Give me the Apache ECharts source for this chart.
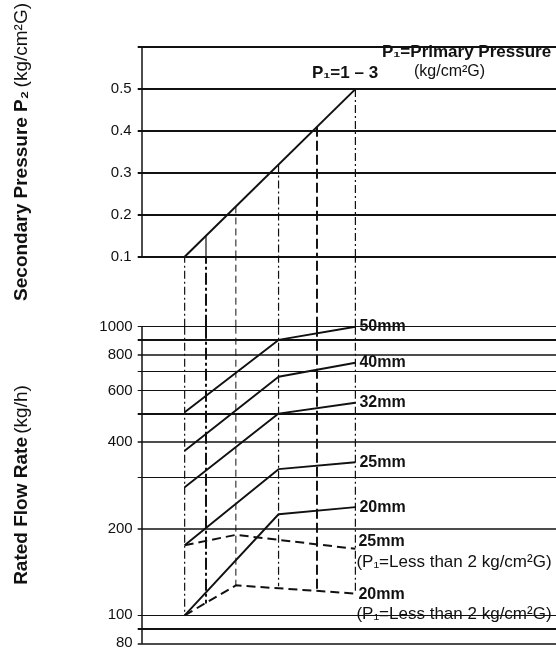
<!DOCTYPE html>
<html><head><meta charset="utf-8">
<script src="https://cdn.jsdelivr.net/npm/echarts@6.0.0/dist/echarts.min.js"></script>
<style>html,body{margin:0;padding:0;background:#fff}#c{width:556px;height:651px}</style>
</head><body><div id="c"></div>
<script>
// ---- data ----
const P2_GUIDES = [0.1, 0.15, 0.22, 0.32, 0.41, 0.5];        // secondary pressure guide positions
const GUIDE_FLOW_END = [100, 110, 127, 126, 123, 119];        // where each guide stops in flow panel
const P1_LINE_X = [0.1, 0.5];
const P1_LINE_P2 = [0.1, 0.5];
const P2_MIN = 0.1, P2_MAX = 0.6;
const FLOW_X = [0.1, 0.32, 0.5];
const FLOW_50 = [505, 900, 1000];
const FLOW_40 = [372, 671, 750];
const FLOW_32 = [278, 500, 545];
const FLOW_25 = [175, 321, 339];
const FLOW_20 = [100, 224, 237];
const FLOW_X_LOW = [0.1, 0.22, 0.5];
const FLOW_25_LOW = [175, 190, 170];
const FLOW_20_LOW = [100, 127, 119];
const FLOW_GRID = [1000, 900, 800, 700, 600, 500, 400, 300, 200, 100, 90, 80];
const FLOW_TICK_LABELS = [1000, 800, 600, 400, 200, 100, 80];
const SIZE_LABELS = ['50mm', '40mm', '32mm', '25mm', '20mm'];
const LOW_NOTE = '(P₁=Less than 2 kg/cm²G)';

// ---- styles ----
const F = "'Liberation Sans', Arial, Helvetica, sans-serif";
const INK = '#111';
const GRID_W = {1000:1, 900:2.2, 800:1.5, 700:1, 600:1, 500:1.8, 400:1.5, 300:1, 200:1.5, 100:1, 90:2.2, 80:1.5};
const GUIDE_STYLE = [
  {width:1.2, type:[8,3,2,3]},
  {width:2,   type:[12,3,3,3]},
  {width:1,   type:[7,4]},
  {width:1.2, type:[8,3,2,3]},
  {width:2,   type:[10,4]},
  {width:1.2, type:[8,3,2,3]}
];
const zip = (xs, ys) => xs.map((x, i) => [x, ys[i]]);

const series = [];
// gridlines of flow panel
series.push({
  type:'line', xAxisIndex:2, yAxisIndex:2, data:[], z:1, silent:true,
  markLine:{
    silent:true, symbol:'none', animation:false,
    data: FLOW_GRID.map(v => ({
      yAxis: v,
      lineStyle:{color:INK, width:GRID_W[v], type:'solid'},
      label:{show:FLOW_TICK_LABELS.includes(v), position:'start', formatter:String(v),
             color:INK, fontSize:15, fontFamily:F, distance:5}
    }))
  }
});
// P1 = 1-3 line
series.push({
  type:'line', xAxisIndex:0, yAxisIndex:0, data:zip(P1_LINE_X, P1_LINE_P2),
  symbol:'none', lineStyle:{color:INK, width:2}, z:3
});
// guides
P2_GUIDES.forEach((x, i) => {
  const ls = Object.assign({color:INK}, GUIDE_STYLE[i]);
  const topLs = i === 1 ? {color:INK, width:1.2, type:'solid'} : ls;
  series.push({type:'line', xAxisIndex:0, yAxisIndex:0, data:[[x, x], [x, P2_MIN]], symbol:'none', lineStyle:topLs, z:2});
  series.push({type:'line', xAxisIndex:1, yAxisIndex:1, data:[[x, 0], [x, 1]], symbol:'none', lineStyle:ls, z:2});
  series.push({type:'line', xAxisIndex:2, yAxisIndex:2, data:[[x, 1000], [x, GUIDE_FLOW_END[i]]], symbol:'none', lineStyle:ls, z:2});
});
// flow curves
[FLOW_50, FLOW_40, FLOW_32, FLOW_25, FLOW_20].forEach((arr, i) => {
  series.push({
    type:'line', xAxisIndex:2, yAxisIndex:2, data:zip(FLOW_X, arr), symbol:'none',
    lineStyle:{color:INK, width:1.9}, z:3,
    endLabel:{show:true, formatter:SIZE_LABELS[i], distance:3, color:INK, fontWeight:'bold',
              fontSize:16, fontFamily:F, backgroundColor:'#fff', padding:[0,2,0,1], lineHeight:17}
  });
});
[[FLOW_25_LOW, '25mm', 3], [FLOW_20_LOW, '20mm', 11]].forEach(([arr, name, off]) => {
  series.push({
    type:'line', xAxisIndex:2, yAxisIndex:2, data:zip(FLOW_X_LOW, arr), symbol:'none',
    lineStyle:{color:INK, width:2, type:[9,5]}, z:3,
    endLabel:{show:true, formatter:'{b|' + name + '}\n{n|' + LOW_NOTE + '}', distance:1,
              offset:[0, off], backgroundColor:'#fff', padding:[0,2,0,0], color:INK,
              rich:{b:{fontWeight:'bold', fontSize:16, lineHeight:20, fontFamily:F, color:INK, padding:[0,0,0,2]},
                    n:{fontSize:17, lineHeight:20, fontFamily:F, color:INK}}}
  });
});

const xCommon = {type:'value', min:-0.01, max:0.97, show:false};
const nameRich = {
  b:{fontWeight:'bold', fontSize:19, fontFamily:F, color:INK},
  n:{fontWeight:'normal', fontSize:19, fontFamily:F, color:INK}
};

const option = {
  animation:false,
  backgroundColor:'#fff',
  title:[
    {text:'P₁=Primary Pressure', left:382, top:44, padding:0,
     textStyle:{fontSize:17, fontWeight:'bold', color:INK, fontFamily:F}},
    {text:'(kg/cm²G)', left:414, top:64, padding:0,
     textStyle:{fontSize:16, fontWeight:'normal', color:INK, fontFamily:F}},
    {text:'P₁=1 – 3', left:312, top:65, padding:0,
     textStyle:{fontSize:17, fontWeight:'bold', color:INK, fontFamily:F}}
  ],
  grid:[
    {left:137.7, right:0, top:40, height:216.7},
    {left:137.7, right:0, top:256.7, height:70},
    {left:137.7, right:0, top:326.7, height:316.6}
  ],
  xAxis:[Object.assign({gridIndex:0}, xCommon), Object.assign({gridIndex:1}, xCommon), Object.assign({gridIndex:2}, xCommon)],
  yAxis:[
    {type:'value', gridIndex:0, min:P2_MIN, max:P2_MAX, interval:0.1,
     axisLine:{show:true, lineStyle:{color:INK, width:1.5}}, axisTick:{show:false},
     axisLabel:{color:INK, fontSize:15, fontFamily:F, margin:6,
                formatter:v => v > 0.55 ? '' : v.toFixed(1)},
     splitLine:{show:true, lineStyle:{color:INK, width:1.9}},
     name:'{b|Secondary Pressure P₂} {n|(kg/cm²G)}', nameLocation:'middle', nameRotate:90, nameGap:106,
     nameTextStyle:{rich:nameRich}},
    {type:'value', gridIndex:1, min:0, max:1, show:false},
    {type:'log', gridIndex:2, logBase:10, min:80, max:1000,
     axisLine:{show:true, lineStyle:{color:INK, width:1.5}}, axisTick:{show:false},
     axisLabel:{show:false}, splitLine:{show:false},
     name:'{b|Rated Flow Rate} {n|(kg/h)}', nameLocation:'middle', nameRotate:90, nameGap:106,
     nameTextStyle:{rich:nameRich}}
  ],
  series
};
const chart = echarts.init(document.getElementById('c'), null, {renderer:'canvas'});
chart.setOption(option);
</script></body></html>
